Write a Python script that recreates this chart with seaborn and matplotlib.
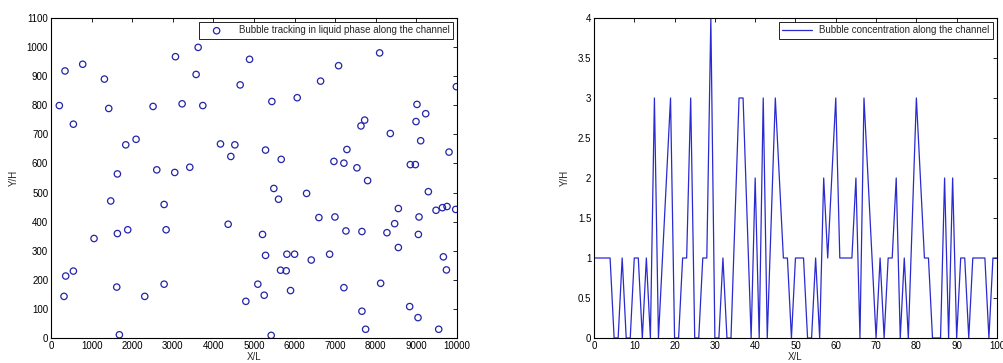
import numpy as np
import pandas as pd
import matplotlib
matplotlib.use("Agg")
import matplotlib.pyplot as plt
import seaborn as sns

# bubble positions (left panel)
bubble_x = [205, 345, 781, 551, 1315, 1422, 1841, 2095, 1635, 1471,
            1060, 1635, 1890, 551, 362, 320, 1619, 1684, 2309, 2786,
            2835, 2786, 2605, 3048, 3418, 2514, 3229, 3739, 3574, 3065,
            3624, 4174, 4528, 4429, 4363, 4659, 4799,
            4890, 5440, 6064, 6640, 7083, 8094, 9984, 9014, 9229, 8990,
            7725, 7634, 8357, 9105, 5284, 7288, 5670, 6968, 7214, 7535,
            9803, 8850, 8974, 7798, 5488, 6295, 5604, 9294, 8555, 9483,
            9640, 9754, 9968, 6598, 6993, 9064, 8464, 5210, 7264, 7658,
            8274, 9048, 8555, 5284, 5810, 5999, 6862, 6410, 9664, 5654,
            5793, 9739, 5900, 5094, 5251, 7214, 8119, 8834, 7658, 9039,
            7749, 9549, 5423]
bubble_y = [799, 918, 941, 735, 890, 789, 664, 683, 564, 471,
            342, 359, 372, 230, 213, 143, 175, 11, 143, 185,
            372, 459, 578, 569, 587, 796, 805, 799, 906, 967,
            999, 667, 664, 624, 391, 870, 126,
            958, 813, 826, 883, 936, 980, 864, 803, 771, 744,
            749, 729, 703, 678, 646, 648, 614, 607, 601, 585,
            639, 596, 596, 541, 514, 497, 477, 503, 445, 439,
            448, 452, 442, 414, 416, 416, 393, 356, 368, 366,
            362, 356, 311, 284, 288, 288, 288, 268, 279, 233,
            231, 234, 163, 185, 147, 173, 188, 108, 92, 70,
            30, 30, 9]

# bubble concentration (right panel)
conc_x = list(range(101))
conc_y = [1, 1, 1, 1, 1, 0, 0, 1, 0, 0,
          1, 1, 0, 1, 0, 3, 0, 1, 2, 3,
          0, 0, 1, 1, 3, 0, 0, 1, 1, 4,
          0, 0, 1, 0, 0, 1.5, 3, 3, 1.5, 0,
          2, 0, 3, 0, 1.5, 3, 2, 1, 1, 0,
          1, 1, 1, 0, 0, 1, 0, 2, 1, 2,
          3, 1, 1, 1, 1, 2, 0, 3, 2, 1,
          0, 1, 0, 1, 1, 2, 0, 1, 0, 1.5,
          3, 2, 1, 1, 0, 0, 0, 2, 0, 2,
          0, 1, 1, 0, 1, 1, 1, 1, 0, 1,
          1]

sns.set_style("white")
plt.rcParams['font.family'] = ['Liberation Sans Narrow', 'Liberation Sans', 'DejaVu Sans']
plt.rcParams['font.size'] = 7

df_b = pd.DataFrame({"x": bubble_x, "y": bubble_y})
df_c = pd.DataFrame({"x": conc_x, "y": conc_y})

fig = plt.figure(figsize=(10.04, 3.63), dpi=100)
ax1 = fig.add_axes([0.0508, 0.0689, 0.4044, 0.8815])
ax2 = fig.add_axes([0.5916, 0.0689, 0.4014, 0.8815])

sns.scatterplot(data=df_b, x="x", y="y", ax=ax1, marker="o", s=21,
                facecolors="none", edgecolor="#2424a8", linewidth=0.9,
                label="Bubble tracking in liquid phase along the channel")
ax1.set_xlim(0, 10000)
ax1.set_ylim(0, 1100)
ax1.set_xticks(np.arange(0, 10001, 1000))
ax1.set_yticks(np.arange(0, 1101, 100))

sns.lineplot(data=df_c, x="x", y="y", ax=ax2, color="#2a2ad0", linewidth=0.9,
             label="Bubble concentration along the channel")
ax2.set_xlim(0, 100)
ax2.set_ylim(0, 4)
ax2.set_xticks(np.arange(0, 101, 10))
ax2.set_yticks(np.arange(0, 4.01, 0.5))
ax2.set_yticklabels(["0", "0.5", "1", "1.5", "2", "2.5", "3", "3.5", "4"])

for ax in (ax1, ax2):
    ax.set_xlabel("X/L", fontsize=7, labelpad=1)
    ax.set_ylabel("Y/H", fontsize=7, labelpad=6)
    ax.tick_params(direction="in", length=3, width=0.6, top=True, right=True,
                   labelsize=7, pad=2, colors="black")
    for sp in ax.spines.values():
        sp.set_color("black")
        sp.set_linewidth(0.8)
    leg = ax.legend(loc="upper right", fontsize=7, fancybox=False,
                    borderaxespad=0.4, handlelength=3.0, borderpad=0.35,
                    framealpha=1)
    leg.get_frame().set_edgecolor("black")
    leg.get_frame().set_linewidth(0.6)

fig.savefig("out.png", dpi=100, facecolor="white")
